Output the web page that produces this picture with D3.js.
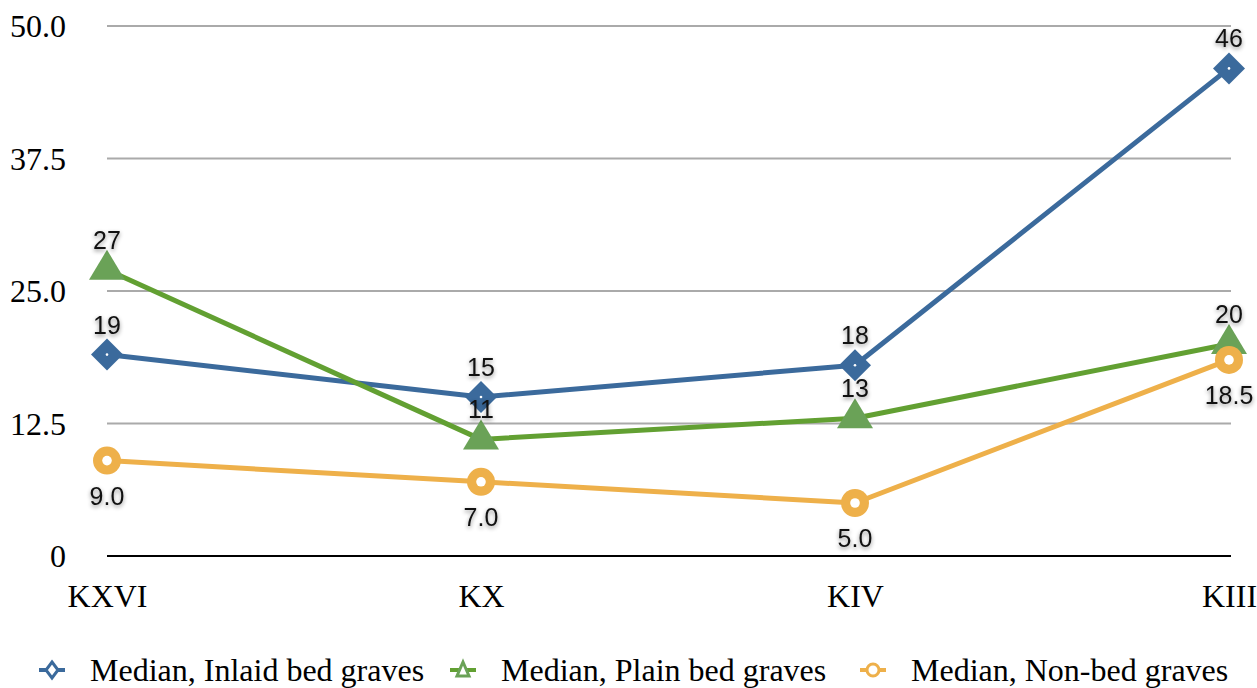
<!DOCTYPE html>
<html>
<head>
<meta charset="utf-8">
<script src="https://cdn.jsdelivr.net/npm/d3@7"></script>
<style>
  body { margin: 0; background: #fff; }
  svg { display: block; }
  .dlabel { font-family: "Liberation Sans", Arial, sans-serif; font-size: 25px; fill: #111;
            filter: drop-shadow(0px 2px 2px rgba(0,0,0,0.45)); }
  .tick text { font-family: "Liberation Serif", "Times New Roman", serif; font-size: 32px; fill: #000; }
  .legend text { font-family: "Liberation Serif", "Times New Roman", serif; font-size: 32px; fill: #000; }
</style>
</head>
<body>
<svg id="chart" width="1257" height="688"></svg>
<script>
const categories = ["KXVI", "KX", "KIV", "KIII"];
const inlaid = [19, 15, 18, 46];
const plain = [27, 11, 13, 20];
const nonBed = [9.0, 7.0, 5.0, 18.5];
const yTicks = [0, 12.5, 25.0, 37.5, 50.0];
const yTickLabels = ["0", "12.5", "25.0", "37.5", "50.0"];
const seriesNames = ["Median, Inlaid bed graves", "Median, Plain bed graves", "Median, Non-bed graves"];

const series = [
  { name: seriesNames[0], values: inlaid, line: "#3b6a9c", fill: "#3b6a9c", shape: "diamond", labelPos: "above", fmt: d3.format("d") },
  { name: seriesNames[1], values: plain, line: "#62a032", fill: "#6aa257", shape: "triangle", labelPos: "above", fmt: d3.format("d") },
  { name: seriesNames[2], values: nonBed, line: "#eeb04a", fill: "#eeb04a", shape: "circle", labelPos: "below", fmt: d3.format(".1f") }
];

const svg = d3.select("#chart");
const plotLeft = 107, plotRight = 1229, plotTop = 26, plotBottom = 556;

const x = d3.scalePoint().domain(categories).range([plotLeft, plotRight]);
const y = d3.scaleLinear().domain([0, 50]).range([plotBottom, plotTop]);

// horizontal gridlines
svg.append("g")
  .selectAll("line")
  .data(yTicks.filter(d => d > 0))
  .join("line")
  .attr("x1", plotLeft).attr("x2", plotRight + 2)
  .attr("y1", d => y(d)).attr("y2", d => y(d))
  .attr("stroke", "#aaaaaa").attr("stroke-width", 2);

// baseline
svg.append("line")
  .attr("x1", plotLeft).attr("x2", plotRight + 2)
  .attr("y1", y(0)).attr("y2", y(0))
  .attr("stroke", "#000").attr("stroke-width", 2);

// y axis labels
const yAxis = d3.axisLeft(y).tickValues(yTicks)
  .tickFormat((d, i) => yTickLabels[i]).tickSize(0).tickPadding(0);
svg.append("g").attr("transform", "translate(66,0)").call(yAxis)
  .call(g => g.select(".domain").remove())
  .selectAll("text").attr("dy", "0.33em");

// x axis labels
const xAxis = d3.axisBottom(x).tickSize(0).tickPadding(0);
svg.append("g").attr("transform", `translate(0,${plotBottom + 28})`).call(xAxis)
  .call(g => g.select(".domain").remove())
  .selectAll("text").attr("dy", "0.71em");

const line = d3.line().x((d, i) => x(categories[i])).y(d => y(d));

function drawMarker(g, shape, fill) {
  if (shape === "diamond") {
    const s = 16;
    g.append("path").attr("d", `M0,${-s}L${s},0L0,${s}L${-s},0Z`).attr("fill", fill);
    g.append("circle").attr("r", 1.3).attr("fill", "#fff");
  } else if (shape === "triangle") {
    g.append("path").attr("d", "M0,-20L18,10L-18,10Z").attr("fill", fill);
  } else {
    g.append("circle").attr("r", 14).attr("fill", fill);
    g.append("circle").attr("r", 4.8).attr("fill", "#fff");
  }
}

// lines
series.forEach(s => {
  svg.append("path").datum(s.values)
    .attr("d", line).attr("fill", "none")
    .attr("stroke", s.line).attr("stroke-width", 5).attr("stroke-linejoin", "round");
});

// markers
series.forEach(s => {
  s.values.forEach((v, i) => {
    const g = svg.append("g").attr("transform", `translate(${x(categories[i])},${y(v)})`);
    drawMarker(g, s.shape, s.fill);
  });
});

// value labels
series.forEach(s => {
  s.values.forEach((v, i) => {
    const above = s.labelPos === "above";
    svg.append("text").attr("class", "dlabel")
      .attr("x", x(categories[i])).attr("y", y(v) + (above ? -21 : 44))
      .attr("text-anchor", "middle")
      .text(s.fmt(v));
  });
});

// legend
const legendX = [52, 463, 873];
const legend = svg.append("g").attr("class", "legend");
series.forEach((s, i) => {
  const g = legend.append("g").attr("transform", `translate(${legendX[i]},670)`);
  g.append("line").attr("x1", -13).attr("x2", 13).attr("stroke", s.line).attr("stroke-width", 4);
  if (s.shape === "diamond") {
    g.append("path").attr("d", "M0,-8L6,0L0,8L-6,0Z").attr("fill", "#fff").attr("stroke", s.fill).attr("stroke-width", 3);
  } else if (s.shape === "triangle") {
    g.append("path").attr("d", "M0,-8L6,6L-6,6Z").attr("fill", "#fff").attr("stroke", s.fill).attr("stroke-width", 3);
  } else {
    g.append("circle").attr("r", 6).attr("fill", "#fff").attr("stroke", s.fill).attr("stroke-width", 3);
  }
  g.append("text").attr("x", 38).attr("dy", "0.33em").text(s.name);
});
</script>
</body>
</html>
